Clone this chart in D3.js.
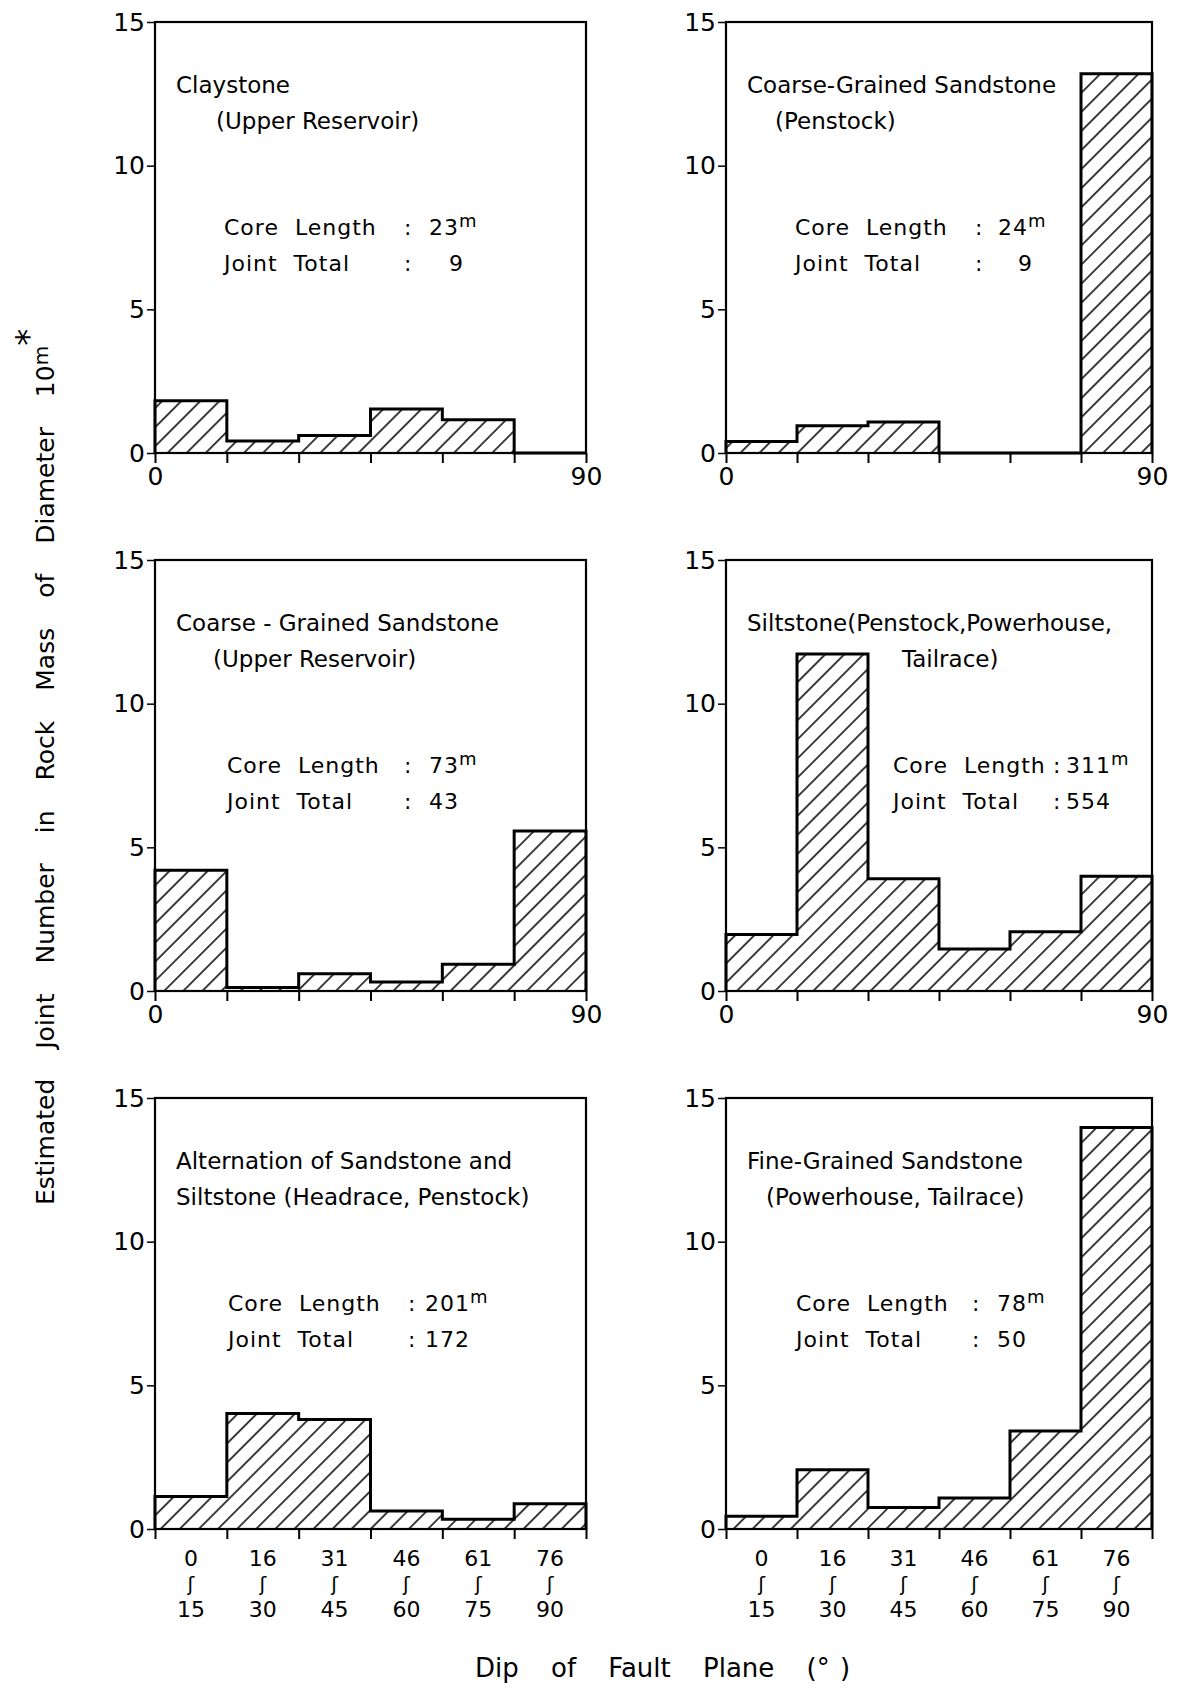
<!DOCTYPE html>
<html>
<head>
<meta charset="utf-8">
<script src="https://cdn.jsdelivr.net/npm/d3@7"></script>
<style>
  body { margin: 0; background: #fff; }
  text { font-family: "DejaVu Sans", sans-serif; fill: #000; }
</style>
</head>
<body>
<svg id="chart"></svg>
<script>
const svgWidth = 1181;
const svgHeight = 1691;

// dip classes (start of each 15 degree bin) and their labels
const bins = [0, 15, 30, 45, 60, 75];
const binFrom = ["0", "16", "31", "46", "61", "76"];
const binTo = ["15", "30", "45", "60", "75", "90"];
const yTicks = [0, 5, 10, 15];

const titles = [
  ["Claystone", "(Upper Reservoir)"],
  ["Coarse-Grained Sandstone", "(Penstock)"],
  ["Coarse - Grained  Sandstone", "(Upper Reservoir)"],
  ["Siltstone(Penstock,Powerhouse,", "Tailrace)"],
  ["Alternation of Sandstone and", "Siltstone (Headrace, Penstock)"],
  ["Fine-Grained Sandstone", "(Powerhouse, Tailrace)"]
];
const coreLength = ["23", "24", "73", "311", "201", "78"];
const jointTotal = ["9", "9", "43", "554", "172", "50"];

// estimated joint number per bin
const claystone = [1.82, 0.42, 0.61, 1.53, 1.16, 0];
const coarsePenstock = [0.40, 0.95, 1.08, 0, 0, 13.2];
const coarseUpper = [4.2, 0.12, 0.60, 0.31, 0.93, 5.57];
const siltstone = [1.97, 11.73, 3.91, 1.46, 2.06, 3.99];
const alternation = [1.13, 4.02, 3.81, 0.63, 0.34, 0.88];
const fineGrained = [0.44, 2.06, 0.75, 1.08, 3.41, 13.97];
const series = [claystone, coarsePenstock, coarseUpper, siltstone, alternation, fineGrained];

// layout
const colLeft = [155, 726];
const colWidth = [431, 426];
const rowTop = [22, 560, 1098];
const panelH = 431;
const line2Indent = [61, 49, 58, 176, 21, 40];
const infoX = [69, 69, 72, 167, 73, 70];
const colonX = [249, 249, 249, 327, 253, 246];
const valueX = [274, 272, 274, 340, 270, 271];

const svg = d3.select("#chart")
  .attr("width", svgWidth)
  .attr("height", svgHeight);

svg.append("rect").attr("width", svgWidth).attr("height", svgHeight).attr("fill", "#fff");

svg.append("defs").append("pattern")
  .attr("id", "hatch")
  .attr("patternUnits", "userSpaceOnUse")
  .attr("width", 13.5)
  .attr("height", 13.5)
  .attr("patternTransform", "rotate(45)")
  .append("line")
  .attr("x1", 6.75).attr("y1", 0)
  .attr("x2", 6.75).attr("y2", 13.5)
  .attr("stroke", "#000")
  .attr("stroke-width", 1.5);

series.forEach((values, i) => {
  const col = i % 2;
  const row = Math.floor(i / 2);
  const x = d3.scaleLinear().domain([0, 90]).range([colLeft[col], colLeft[col] + colWidth[col]]);
  const y = d3.scaleLinear().domain([0, 15]).range([rowTop[row] + panelH, rowTop[row]]);
  const g = svg.append("g");

  // step points: each bin start plus the end at 90
  const pts = bins.map((b, k) => ({ d: b, v: values[k] }));
  pts.push({ d: 90, v: values[values.length - 1] });

  const area = d3.area()
    .curve(d3.curveStepAfter)
    .x(d => x(d.d))
    .y0(y(0))
    .y1(d => y(d.v));

  g.append("path")
    .attr("d", area(pts))
    .attr("fill", "url(#hatch)");

  const outline = [{ d: 0, v: 0 }].concat(pts, [{ d: 90, v: 0 }]);
  const line = d3.line()
    .curve(d3.curveStepAfter)
    .x(d => x(d.d))
    .y(d => y(d.v));

  g.append("path")
    .attr("d", line(outline))
    .attr("fill", "none")
    .attr("stroke", "#000")
    .attr("stroke-width", 3)
    .attr("stroke-linejoin", "miter");

  // frame
  g.append("rect")
    .attr("x", x(0)).attr("y", y(15))
    .attr("width", x(90) - x(0)).attr("height", y(0) - y(15))
    .attr("fill", "none")
    .attr("stroke", "#000")
    .attr("stroke-width", 2.2);

  // y axis
  const yAxis = d3.axisLeft(y).tickValues(yTicks).tickSize(8).tickSizeOuter(0).tickPadding(2);
  const ya = g.append("g").attr("transform", `translate(${x(0)},0)`).call(yAxis);
  ya.select(".domain").remove();
  ya.selectAll("line").attr("stroke-width", 1.5);
  ya.selectAll("text").attr("font-size", 25).attr("font-family", "DejaVu Sans");

  // x axis
  const bottom = row === 2;
  const xAxis = d3.axisBottom(x)
    .tickValues(bins.concat([90]))
    .tickSize(10)
    .tickSizeOuter(0)
    .tickPadding(4)
    .tickFormat(d => (!bottom && (d === 0 || d === 90)) ? d : "");
  const xa = g.append("g").attr("transform", `translate(0,${y(0)})`).call(xAxis);
  xa.select(".domain").remove();
  xa.selectAll("line").attr("stroke-width", 2);
  xa.selectAll("text").attr("font-size", 25).attr("font-family", "DejaVu Sans");

  if (bottom) {
    const lab = g.append("g").attr("font-size", 22).attr("text-anchor", "middle");
    bins.forEach((b, k) => {
      const cx = x(b + 7.5);
      lab.append("text").attr("x", cx).attr("y", y(0) + 37).text(binFrom[k]);
      lab.append("text").attr("x", cx).attr("y", y(0) + 62).attr("font-size", 20).text("\u0283");
      lab.append("text").attr("x", cx).attr("y", y(0) + 88).text(binTo[k]);
    });
  }

  // titles
  const x0 = x(0), top = y(15);
  g.append("text").attr("x", x0 + 21).attr("y", top + 71).attr("font-size", 23).text(titles[i][0]);
  g.append("text").attr("x", x0 + line2Indent[i]).attr("y", top + 107).attr("font-size", 23).text(titles[i][1]);

  // core length / joint total
  const info = g.append("g").attr("font-size", 22).attr("letter-spacing", 1);
  info.append("text").attr("x", x0 + infoX[i]).attr("y", top + 213).attr("word-spacing", 8).text("Core Length");
  info.append("text").attr("x", x0 + infoX[i]).attr("y", top + 249).attr("word-spacing", 8).text("Joint Total");
  info.append("text").attr("x", x0 + colonX[i]).attr("y", top + 213).text(":");
  info.append("text").attr("x", x0 + colonX[i]).attr("y", top + 249).text(":");
  const cl = info.append("text").attr("x", x0 + valueX[i]).attr("y", top + 213).text(coreLength[i]);
  cl.append("tspan").attr("dy", -8).attr("font-size", 18).text("m");
  info.append("text").attr("x", x0 + valueX[i] + (jointTotal[i].length === 1 ? 20 : 0)).attr("y", top + 249).text(jointTotal[i]);
});

// y axis label
const yl = svg.append("text")
  .attr("transform", "translate(54,1205) rotate(-90)")
  .attr("font-size", 25)
  .attr("word-spacing", 22)
  .text("Estimated Joint Number in Rock Mass of Diameter 10");
yl.append("tspan").attr("dy", -6).attr("font-size", 20).text("m");
yl.append("tspan").attr("dy", -8).attr("font-size", 34).text("*");

// x axis label
const xl = svg.append("text")
  .attr("x", 475)
  .attr("y", 1677)
  .attr("font-size", 26)
  .attr("word-spacing", 24)
  .text("Dip of Fault Plane ");
xl.append("tspan").attr("word-spacing", 2).text("(\u00b0 )");
</script>
</body>
</html>
